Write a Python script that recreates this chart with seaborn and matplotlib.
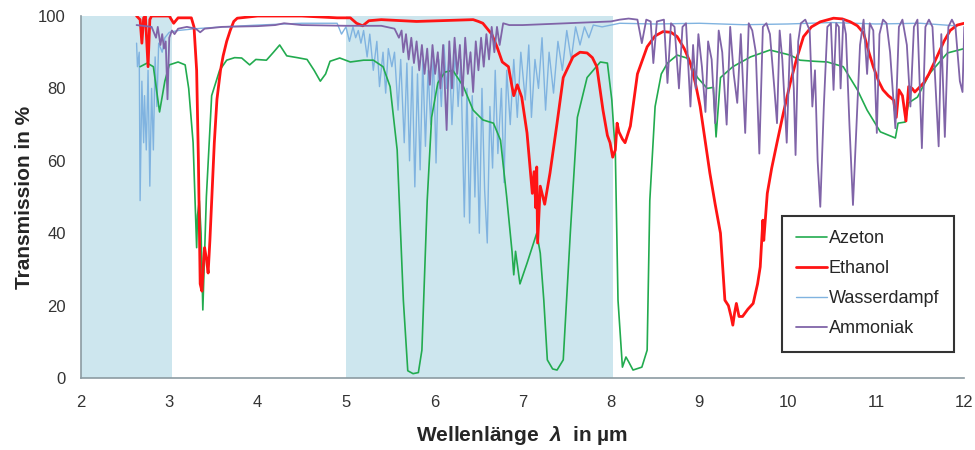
import pandas as pd
import seaborn as sns
import matplotlib.pyplot as plt
from matplotlib.lines import Line2D

# 1 Spectra (wavelength in um, transmission in %)
azeton_x = [2.67, 2.75, 2.82, 2.89, 2.95, 3.0, 3.1, 3.18, 3.22, 3.27, 3.31, 3.32, 3.34, 3.36, 3.38,
            3.42, 3.48, 3.57, 3.65, 3.74, 3.82, 3.91, 3.98, 4.1, 4.18, 4.25, 4.33, 4.45, 4.56, 4.64,
            4.71, 4.77, 4.82, 4.93, 5.05, 5.2, 5.31, 5.42, 5.5, 5.58, 5.65, 5.7, 5.76, 5.82, 5.86,
            5.92, 5.97, 6.04, 6.12, 6.21, 6.33, 6.44, 6.55, 6.67, 6.75, 6.82, 6.88, 6.9, 6.92, 6.97,
            7.05, 7.16, 7.2, 7.24, 7.28, 7.34, 7.39, 7.46, 7.54, 7.62, 7.73, 7.88, 7.96, 8.01, 8.05,
            8.08, 8.13, 8.17, 8.2, 8.25, 8.35, 8.41, 8.44, 8.5, 8.57, 8.64, 8.75, 8.86, 8.98, 9.09,
            9.16, 9.19, 9.24, 9.38, 9.58, 9.8, 10.03, 10.14, 10.3, 10.45, 10.63, 10.79, 10.9, 11.05,
            11.22, 11.25, 11.33, 11.37, 11.47, 11.61, 11.81, 12.0]
azeton_y = [86, 87, 86, 73.5, 82, 86.5, 87.3, 86.5, 80, 65, 36, 45, 49, 40, 18.8,
            50, 78, 85, 87.8, 88.5, 88.4, 86.5, 88, 87.8, 90, 92, 89, 88.5, 88, 85,
            82, 84, 87.5, 88.4, 87.3, 87.8, 87.8, 86, 80.5, 63, 21.5, 2, 1.2, 1.5, 7.7,
            49, 72, 81.5, 84.5, 85, 80.5, 74, 71.3, 70.4, 65.7, 50, 35, 28.5, 35, 26,
            31.7, 40, 34.5, 21.5, 5, 2.5, 2.2, 5, 40, 72, 83, 87.3, 87, 76.8, 62,
            21.5, 3, 5.8, 4.5, 2.2, 3, 7.7, 49, 75, 84, 87, 89.2, 88.4, 83, 80,
            80.3, 66.6, 83, 86, 88.7, 90.6, 89.2, 87.8, 87.5, 87.3, 86, 79.6, 74, 68,
            66.3, 70.4, 70.7, 76, 77.6, 84.2, 89.8, 91]

ethanol_x = [2.63, 2.67, 2.69, 2.71, 2.73, 2.76, 2.78, 2.8, 3.0, 3.05, 3.1, 3.25, 3.28, 3.31, 3.33,
             3.35, 3.37, 3.39, 3.4, 3.42, 3.44, 3.46, 3.48, 3.51, 3.54, 3.58, 3.61, 3.65, 3.69, 3.73,
             3.77, 4.0, 4.5, 4.9, 5.05, 5.12, 5.19, 5.26, 5.4, 5.8, 6.2, 6.44, 6.5, 6.55, 6.6,
             6.65, 6.71, 6.77, 6.84, 6.88, 6.9, 6.94, 6.99, 7.05, 7.11, 7.13, 7.15, 7.16, 7.17, 7.2,
             7.25, 7.31, 7.39, 7.46, 7.57, 7.65, 7.73, 7.79, 7.84, 7.91, 7.96, 7.99, 8.02, 8.05, 8.07,
             8.09, 8.13, 8.16, 8.22, 8.3, 8.41, 8.5, 8.59, 8.68, 8.75, 8.83, 8.9, 8.96, 9.01, 9.07,
             9.12, 9.18, 9.24, 9.29, 9.33, 9.36, 9.38, 9.4, 9.42, 9.45, 9.49, 9.55, 9.61, 9.66, 9.69,
             9.72, 9.73, 9.77, 9.82, 9.88, 9.95, 10.03, 10.1, 10.18, 10.27, 10.37, 10.52, 10.62, 10.71,
             10.79, 10.86, 10.92, 10.97, 11.03, 11.08, 11.14, 11.2, 11.23, 11.26, 11.3, 11.34, 11.37,
             11.41, 11.44, 11.5, 11.54, 11.6, 11.69, 11.77, 11.84, 11.92, 12.0]
ethanol_y = [100, 99, 92.5, 99.5, 100, 86, 99, 100, 100, 98, 99.5, 99.5, 97, 85, 60,
             26, 24, 33, 36, 33, 29, 38, 49, 65, 77, 85, 89, 93, 96, 98.5,
             99.4, 100, 100, 99.5, 99.5, 98, 97.3, 98.7, 99, 98.5, 98.8, 99, 98.5, 98, 96.5,
             95, 91.5, 87.3, 86, 80.5, 78, 81, 77.6, 67.7, 51, 57, 47, 58.3, 37.3, 53,
             48, 56.6, 70.4, 83, 88.7, 90, 89.8, 88.5, 86, 74, 67, 65, 61, 63, 70.4,
             68, 66, 65, 69.6, 84, 91.5, 94.5, 95.7, 95.5, 94.3, 91, 87, 81, 75, 65,
             56.6, 48, 40, 21.5, 20, 17, 14.6, 18, 20.6, 17, 17, 19, 20.6, 26, 30.7,
             43.6, 38, 51, 58, 65, 73, 81.5, 88, 94.3, 97, 98.4, 99.4, 99.2, 98.4,
             97.3, 95.3, 90, 86, 82, 79.6, 78, 76.8, 72, 79.6, 78, 71, 80.5,
             80, 79, 80.5, 81.5, 84, 88.7, 93, 96, 97.5, 98]

wasser_x = [2.63, 2.64, 2.66, 2.67, 2.69, 2.71, 2.72, 2.74, 2.76, 2.78, 2.8, 2.82, 2.84, 2.86, 2.88,
            2.92, 2.95, 3.0, 3.1, 3.3, 3.6, 4.0, 4.5, 4.9, 4.95, 5.0, 5.04, 5.08, 5.11, 5.14,
            5.17, 5.2, 5.24, 5.27, 5.31, 5.35, 5.38, 5.42, 5.45, 5.48, 5.52, 5.55, 5.59, 5.62, 5.66,
            5.69, 5.72, 5.75, 5.78, 5.81, 5.84, 5.87, 5.9, 5.93, 5.96, 5.99, 6.02, 6.05, 6.08, 6.11,
            6.14, 6.17, 6.2, 6.24, 6.27, 6.3, 6.34, 6.37, 6.4, 6.43, 6.46, 6.48, 6.51, 6.54, 6.57,
            6.6, 6.63, 6.66, 6.69, 6.72, 6.76, 6.79, 6.82, 6.86, 6.9, 6.94, 6.98, 7.03, 7.07, 7.1,
            7.14, 7.18, 7.22, 7.26, 7.3, 7.35, 7.4, 7.45, 7.5, 7.55, 7.6, 7.65, 7.7, 7.75, 7.8,
            7.9, 8.0, 8.1, 8.5, 9.0, 9.5, 10.0, 10.5, 11.0, 11.5, 11.9, 12.0]
wasser_y = [92.5, 86, 90, 49, 82, 65, 78, 63, 85, 53, 80, 63, 88.7, 75, 92.5,
            90, 94, 95.5, 96, 96.5, 97, 97.5, 98, 98, 95, 97, 93, 97, 94, 96,
            92.5, 96, 88.7, 95, 85, 93, 80.5, 90, 78.7, 91, 86, 90, 74, 88, 65,
            87, 60, 86, 52.8, 84, 57.5, 88, 64, 85, 70, 90, 59.4, 88, 75, 92,
            80, 90, 70, 91, 75, 88, 44.5, 80, 42.8, 78, 50, 72, 40, 80, 52,
            37.3, 75, 58, 85, 62, 80, 54, 85, 70, 88, 72, 90, 76.8, 92, 72,
            88, 80, 94, 74, 90, 78.7, 93, 85, 96, 88, 97, 92, 97, 94, 97.5,
            97, 97.5, 98, 97.8, 98, 97.6, 97.8, 98.2, 97.8, 98, 97.3, 98]

ammoniak_x = [2.63, 2.8, 2.85, 2.87, 2.9, 2.92, 2.94, 2.96, 2.98, 3.0, 3.03, 3.06, 3.1, 3.2, 3.3,
              3.35, 3.4, 3.6, 4.0, 4.2, 4.3, 4.5, 5.0, 5.4, 5.55, 5.6, 5.63, 5.65, 5.68, 5.71,
              5.74, 5.77, 5.8, 5.83, 5.86, 5.89, 5.92, 5.95, 5.98, 6.01, 6.04, 6.07, 6.1, 6.14, 6.17,
              6.2, 6.23, 6.26, 6.29, 6.32, 6.35, 6.38, 6.41, 6.44, 6.47, 6.5, 6.53, 6.56, 6.59, 6.62,
              6.65, 6.68, 6.71, 6.74, 6.78, 6.85, 7.0, 7.5, 8.0, 8.1, 8.2, 8.3, 8.35, 8.4, 8.45,
              8.48, 8.52, 8.6, 8.64, 8.68, 8.72, 8.77, 8.81, 8.85, 8.9, 8.93, 8.96, 8.99, 9.03, 9.07,
              9.1, 9.14, 9.18, 9.22, 9.26, 9.31, 9.35, 9.39, 9.43, 9.47, 9.52, 9.56, 9.6, 9.64, 9.68,
              9.72, 9.76, 9.8, 9.85, 9.88, 9.91, 9.94, 9.99, 10.03, 10.07, 10.09, 10.12, 10.15, 10.2,
              10.25, 10.28, 10.31, 10.34, 10.37, 10.41, 10.45, 10.49, 10.52, 10.55, 10.58, 10.6, 10.63,
              10.66, 10.7, 10.74, 10.78, 10.82, 10.86, 10.9, 10.93, 10.97, 11.01, 11.04, 11.08, 11.12,
              11.16, 11.22, 11.26, 11.3, 11.35, 11.39, 11.43, 11.47, 11.52, 11.56, 11.6, 11.64, 11.71,
              11.74, 11.78, 11.82, 11.86, 11.9, 11.95, 11.98, 12.0]
ammoniak_y = [97.5, 97, 94, 97, 92, 95, 91, 93, 77, 94, 96, 95, 96.5, 97, 96.5,
              95.5, 96.5, 97, 97.2, 97.5, 98, 97.5, 97.3, 97.3, 96.5, 94, 96, 90, 95, 88,
              94, 87, 93, 85, 92, 84, 91, 81, 92, 84, 90, 80, 92, 68.5, 93,
              80, 94, 84, 92, 78, 94, 84, 90, 79, 93, 85, 94, 86, 95, 88,
              97, 90, 97, 92, 98, 97.5, 97.5, 98, 98.5, 99, 99.3, 99, 92.5, 99, 98.5,
              87, 98.5, 99, 81.5, 98, 97, 80, 97, 98, 75, 92, 80, 95, 86, 73.5,
              93, 88, 70.4, 96, 90, 70, 97, 84, 76, 95, 67.7, 98, 96, 90, 62,
              97, 98, 95, 80, 70.4, 96, 88, 65, 95, 80, 61.6, 93, 98, 99,
              96, 75, 85, 60, 47.3, 75, 97, 98, 79.6, 98, 97, 80, 99,
              95, 70, 47.8, 70, 92, 99, 84, 98, 96, 67.7, 95, 99, 98,
              90, 69, 97, 99, 92, 75, 97, 99, 63.5, 97, 99, 97, 64,
              95, 66.6, 97, 99, 97, 82, 79, 97]

series_names = ['Azeton', 'Ethanol', 'Wasserdampf', 'Ammoniak']
shaded_bands = [(2.0, 3.03), (5.0, 8.02)]

# 2 Long format table for seaborn
df = pd.concat([
    pd.DataFrame({'x': azeton_x, 'y': azeton_y, 'stoff': 'Azeton'}),
    pd.DataFrame({'x': ethanol_x, 'y': ethanol_y, 'stoff': 'Ethanol'}),
    pd.DataFrame({'x': wasser_x, 'y': wasser_y, 'stoff': 'Wasserdampf'}),
    pd.DataFrame({'x': ammoniak_x, 'y': ammoniak_y, 'stoff': 'Ammoniak'}),
], ignore_index=True)

colors = {'Azeton': '#22ab4f', 'Ethanol': '#ff1414', 'Wasserdampf': '#80b3e0', 'Ammoniak': '#8064a8'}
widths = {'Azeton': 1.2, 'Ethanol': 2.0, 'Wasserdampf': 1.0, 'Ammoniak': 1.3}
zorders = {'Wasserdampf': 2, 'Azeton': 3, 'Ethanol': 4, 'Ammoniak': 5}

sns.set_style('white')
plt.rcParams['font.family'] = ['Liberation Sans', 'DejaVu Sans']
plt.rcParams['mathtext.fontset'] = 'custom'
plt.rcParams['mathtext.it'] = 'Liberation Sans:italic:bold'

# 3 Plot
fig, ax = plt.subplots(figsize=(9.75, 4.5), dpi=100)
fig.subplots_adjust(left=0.083, right=0.989, bottom=0.16, top=0.9644)

for lo, hi in shaded_bands:
    ax.axvspan(lo, hi, color='#cde6ee', lw=0, zorder=1)

for name in series_names:
    sns.lineplot(data=df[df['stoff'] == name], x='x', y='y', ax=ax, color=colors[name],
                 lw=widths[name], estimator=None, sort=False, zorder=zorders[name])

ax.set_xlim(2, 12)
ax.set_ylim(0, 100)
ax.set_xticks(range(2, 13))
ax.set_yticks(range(0, 101, 20))
ax.tick_params(length=0, labelsize=12, labelcolor='#333333')
ax.tick_params(axis='x', pad=12)
ax.tick_params(axis='y', pad=11)
for side in ['top', 'right']:
    ax.spines[side].set_visible(False)
for side in ['left', 'bottom']:
    ax.spines[side].set_color('#8c9ba2')
    ax.spines[side].set_linewidth(1.2)

ax.set_xlabel('Wellenlänge  $\\mathit{\\lambda}$  in µm', fontsize=15, fontweight='bold', labelpad=10)
ax.set_ylabel('Transmission in %', fontsize=15, fontweight='bold', labelpad=3)

# 4 Legend
handles = [Line2D([], [], color=colors[n], lw=widths[n]) for n in series_names]
leg = ax.legend(handles, series_names, loc='lower right', bbox_to_anchor=(0.988, 0.072),
                borderaxespad=0, fontsize=13, frameon=True, fancybox=False, edgecolor='black',
                handlelength=1.7, handletextpad=0.1, labelspacing=0.72, borderpad=0.8)
leg.get_frame().set_linewidth(1.5)
leg.set_zorder(10)

fig.savefig('out.png', dpi=100)
